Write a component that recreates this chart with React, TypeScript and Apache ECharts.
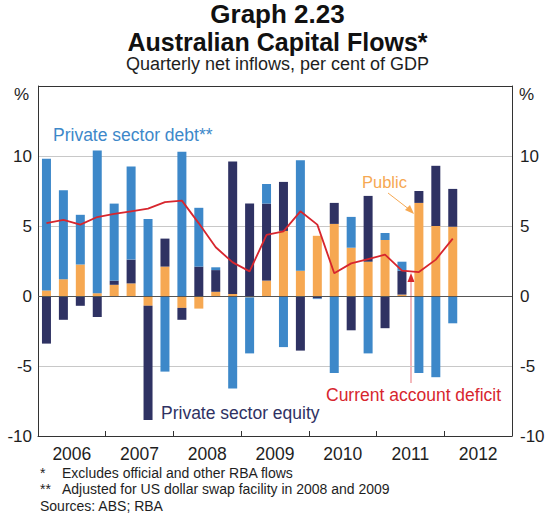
import React, { useEffect, useRef } from "react";
import * as echarts from "echarts";

const years = ["2006", "2007", "2008", "2009", "2010", "2011", "2012"];
const quarters: string[] = [];
years.forEach((y) => ["Q1", "Q2", "Q3", "Q4"].forEach((q) => quarters.push(y + q)));

const publicFlows = [0.4, 1.2, 2.25, 0.2, 0.8, 0.9, -0.7, 2.1, -0.85, -0.9, 0.3, 0.15, -0.1, 1.1, 4.65, 1.8, 4.3, 5.15, 3.45, 2.45, 4.0, 0.1, 6.65, 5.0, 4.95];
const equityFlows = [-3.4, -1.7, -0.7, -1.5, 0.3, 1.7, -8.15, 2.0, -0.85, 2.1, 1.55, 9.45, 6.6, 5.5, 3.5, -3.9, -0.17, 1.5, -2.45, 4.7, -2.3, 1.7, 0.85, 4.3, 2.7];
const debtFlows = [9.4, 6.35, 3.55, 10.2, 5.5, 6.65, 5.5, -5.4, 10.3, 4.2, 0.2, -6.6, -4.0, 1.4, -3.65, 7.9, -0.05, -5.5, 2.2, -4.1, 0.5, 0.65, -5.5, -5.8, -1.95];
const currentAccountDeficit = [5.2, 5.43, 5.1, 5.64, 5.86, 6.05, 6.24, 6.71, 6.81, 5.19, 3.48, 2.4, 1.76, 4.36, 4.62, 6.05, 5.1, 1.62, 2.33, 2.64, 2.95, 1.81, 1.71, 2.6, 4.1];

const FONT = "Arial, 'Liberation Sans', sans-serif";
const C_DEBT = "#3d88c9";
const C_EQUITY = "#2f3263";
const C_PUBLIC = "#f6a852";
const C_CAD = "#d7262e";
const C_TEXT = "#1e1e1e";

export default function App() {
  const ref = useRef<HTMLDivElement>(null);
  useEffect(() => {
    if (!ref.current) return;
    const chart = echarts.init(ref.current, undefined, { renderer: "svg" });
    const yLabel = {
      fontFamily: FONT,
      fontSize: 17,
      color: C_TEXT,
      formatter: (v: number) => (v === 15 ? "" : String(v)),
    };
    chart.setOption({
      animation: false,
      backgroundColor: "#fff",
      textStyle: { fontFamily: FONT },
      grid: { left: 38, right: 43, top: 86, bottom: 79 },
      xAxis: [
        {
          type: "category",
          data: quarters,
          show: false,
          boundaryGap: true,
        },
        {
          type: "category",
          data: years,
          position: "bottom",
          boundaryGap: true,
          axisLine: { show: true, onZero: false, lineStyle: { color: "#333", width: 1 } },
          axisTick: { show: true, inside: true, length: 5, lineStyle: { color: "#333" } },
          axisLabel: { fontFamily: FONT, fontSize: 17.5, color: C_TEXT, margin: 9 },
          splitLine: { show: false },
        },
      ],
      yAxis: [
        {
          type: "value",
          min: -10,
          max: 15,
          interval: 5,
          position: "left",
          axisLine: { show: true, lineStyle: { color: "#333" } },
          axisTick: { show: false },
          axisLabel: { ...yLabel, margin: 6 },
          splitLine: {
            show: true,
            lineStyle: { color: ["#333", "#c8c8c8", "#c8c8c8", "#c8c8c8", "#c8c8c8", "#333"], width: 1 },
          },
        },
        {
          type: "value",
          min: -10,
          max: 15,
          interval: 5,
          position: "right",
          axisLine: { show: true, lineStyle: { color: "#333" } },
          axisTick: { show: false },
          axisLabel: { ...yLabel, margin: 8 },
          splitLine: { show: false },
        },
      ],
      series: [
        {
          name: "Public",
          type: "bar",
          stack: "flows",
          barWidth: 9,
          itemStyle: { color: C_PUBLIC },
          data: publicFlows,
        },
        {
          name: "Private sector equity",
          type: "bar",
          stack: "flows",
          barWidth: 9,
          itemStyle: { color: C_EQUITY },
          data: equityFlows,
        },
        {
          name: "Private sector debt",
          type: "bar",
          stack: "flows",
          barWidth: 9,
          itemStyle: { color: C_DEBT },
          data: debtFlows,
        },
        {
          name: "Current account deficit",
          type: "line",
          data: currentAccountDeficit,
          symbol: "none",
          lineStyle: { color: C_CAD, width: 1.8 },
          z: 5,
          markLine: {
            silent: true,
            symbol: "none",
            label: { show: false },
            lineStyle: { color: "#555", width: 1.2, type: "solid" },
            data: [{ yAxis: 0 }],
            z: 4,
          },
        },
      ],
      graphic: [
        { type: "text", left: "center", top: 1, style: { text: "Graph 2.23", font: `bold 26px ${FONT}`, fill: "#111" } },
        { type: "text", left: "center", top: 29, style: { text: "Australian Capital Flows*", font: `bold 25px ${FONT}`, fill: "#111" } },
        { type: "text", left: "center", top: 55, style: { text: "Quarterly net inflows, per cent of GDP", font: `18px ${FONT}`, fill: C_TEXT } },
        { type: "text", x: 14, y: 86, style: { text: "%", font: `17px ${FONT}`, fill: C_TEXT } },
        { type: "text", x: 519, y: 86, style: { text: "%", font: `17px ${FONT}`, fill: C_TEXT } },
        { type: "text", x: 53, y: 126, style: { text: "Private sector debt**", font: `17.5px ${FONT}`, fill: C_DEBT } },
        { type: "text", x: 362, y: 173, style: { text: "Public", font: `16.5px ${FONT}`, fill: C_PUBLIC } },
        { type: "line", shape: { x1: 388, y1: 193, x2: 410, y2: 210 }, style: { stroke: C_PUBLIC, lineWidth: 1 } },
        { type: "polygon", shape: { points: [[414, 214], [405, 210], [410, 205]] }, style: { fill: C_PUBLIC } },
        { type: "text", x: 326, y: 386, style: { text: "Current account deficit", font: `17.5px ${FONT}`, fill: C_CAD } },
        { type: "line", shape: { x1: 411, y1: 383, x2: 411, y2: 280 }, style: { stroke: "#ec8a8f", lineWidth: 1.2 } },
        { type: "polygon", shape: { points: [[411, 273], [407.5, 282], [414.5, 282]] }, style: { fill: C_CAD } },
        { type: "text", x: 161, y: 404, style: { text: "Private sector equity", font: `17.5px ${FONT}`, fill: C_EQUITY } },
        { type: "text", x: 40, y: 466, style: { text: "*", font: `14px ${FONT}`, fill: C_TEXT } },
        { type: "text", x: 62, y: 466, style: { text: "Excludes official and other RBA flows", font: `14px ${FONT}`, fill: C_TEXT } },
        { type: "text", x: 40, y: 482, style: { text: "**", font: `14px ${FONT}`, fill: C_TEXT } },
        { type: "text", x: 62, y: 482, style: { text: "Adjusted for US dollar swap facility in 2008 and 2009", font: `14px ${FONT}`, fill: C_TEXT } },
        { type: "text", x: 40, y: 499, style: { text: "Sources: ABS; RBA", font: `14px ${FONT}`, fill: C_TEXT } },
      ],
    });
    return () => chart.dispose();
  }, []);
  return <div ref={ref} style={{ position: "fixed", left: 0, top: 0, width: 555, height: 515 }} />;
}
